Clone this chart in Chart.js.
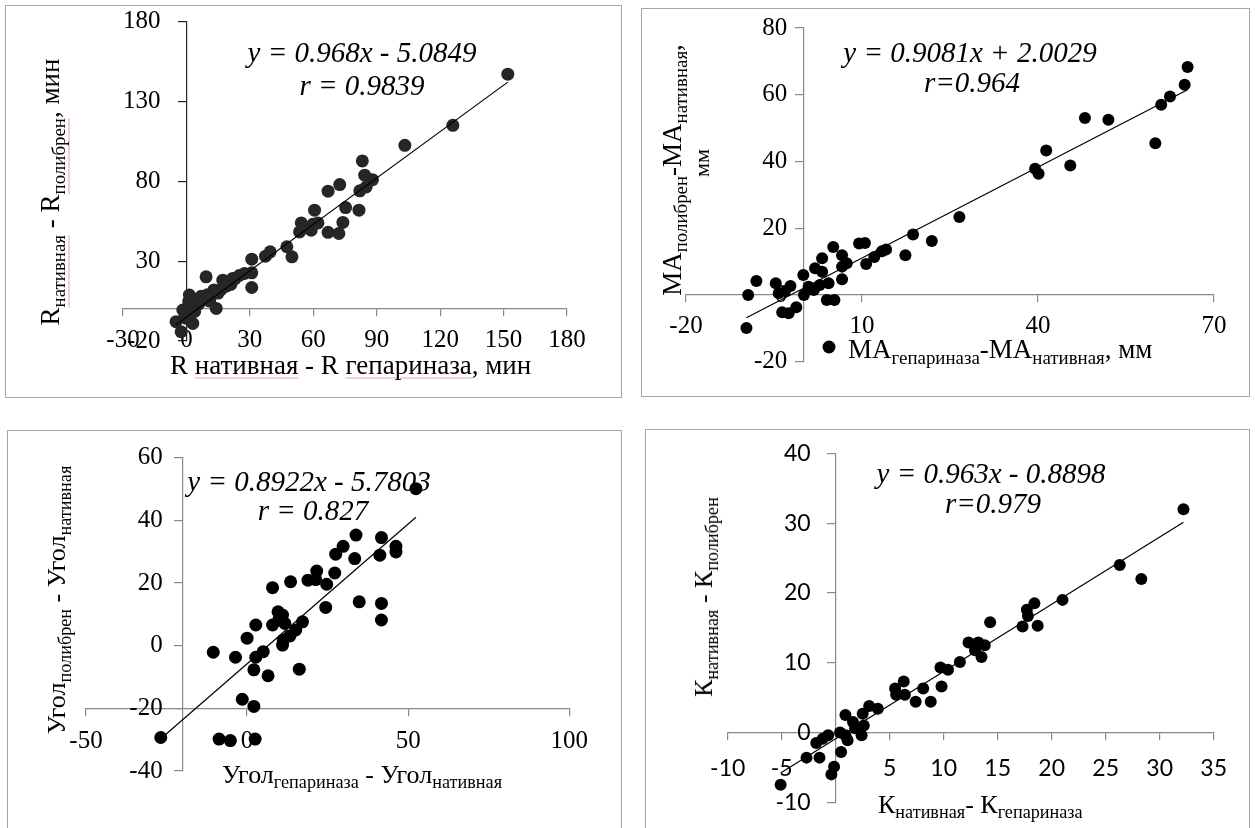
<!DOCTYPE html>
<html>
<head>
<meta charset="utf-8">
<script src="https://cdn.jsdelivr.net/npm/chart.js@4.4.1/dist/chart.umd.min.js"></script>
<style>
    body { margin: 0; background: #fff; width: 1255px; height: 828px; position: relative; overflow: hidden; }
    canvas { position: absolute; left: 0; top: 0; }
    .box { position: absolute; border: 1.5px solid #a6a6a6; box-sizing: border-box; }
    .t { position: absolute; white-space: nowrap; font-family: 'Liberation Serif', serif; color: #000; line-height: 1; }
    .t sub { font-size: 0.7em; vertical-align: -0.32em; line-height: 0; }
    .eq { font-style: italic; font-size: 29px; transform: translate(-50%, -50%); }
    .rot { transform: translate(-50%, -50%) rotate(-90deg); }
    .sp { text-decoration: underline; text-decoration-color: rgba(235, 120, 120, 0.7); text-underline-offset: 4px; text-decoration-thickness: 1px; }
    .dot { position: absolute; width: 13px; height: 13px; border-radius: 50%; background: #000; transform: translate(-50%, -50%); }
</style>
</head>
<body>
<div class="box" style="left:5px;top:5px;width:617px;height:393px"></div>
<div class="box" style="left:641px;top:8px;width:609px;height:389px"></div>
<div class="box" style="left:7px;top:430px;width:615px;height:402px"></div>
<div class="box" style="left:645px;top:429px;width:605px;height:402px"></div>

<canvas id="c1" width="1255" height="828"></canvas>
<canvas id="c2" width="1255" height="828"></canvas>
<canvas id="c3" width="1255" height="828"></canvas>
<canvas id="c4" width="1255" height="828"></canvas>

<!-- Панель 1 -->
<div class="t eq" style="left:362px;top:52px">y = 0.968x - 5.0849</div>
<div class="t eq" style="left:362px;top:85px">r = 0.9839</div>
<div class="t" style="left:170px;top:365px;font-size:27px;transform:translateY(-50%)">R <span class="sp">нативная</span> - R <span class="sp">гепариназа</span>, мин</div>
<div class="t rot" style="left:50px;top:192px;font-size:27px">R<sub class="sp">нативная</sub> - R<sub class="sp">полибрен</sub>, мин</div>

<!-- Панель 2 -->
<div class="t eq" style="left:970px;top:52px">y = 0.9081x + 2.0029</div>
<div class="t eq" style="left:972px;top:82px">r=0.964</div>
<div class="t rot" style="left:672px;top:170px;font-size:27px">MA<sub>полибрен</sub>-MA<sub>нативная</sub>,</div>
<div class="t rot" style="left:702px;top:163px;font-size:22px">мм</div>
<div class="dot" style="left:829px;top:347px"></div>
<div class="t" style="left:848px;top:347px;font-size:27px;transform:translateY(-40%)">MA<sub>гепариназа</sub>-MA<sub>нативная</sub>, мм</div>

<!-- Панель 3 -->
<div class="t eq" style="left:309px;top:481px">y = 0.8922x - 5.7803</div>
<div class="t eq" style="left:313px;top:510px">r = 0.827</div>
<div class="t" style="left:222px;top:772px;font-size:26px;transform:translateY(-40%)">Угол<sub>гепариназа</sub> - Угол<sub>нативная</sub></div>
<div class="t rot" style="left:57px;top:600px;font-size:26px">Угол<sub>полибрен</sub> - Угол<sub>нативная</sub></div>

<!-- Панель 4 -->
<div class="t eq" style="left:991px;top:473px">y = 0.963x - 0.8898</div>
<div class="t eq" style="left:993px;top:503px">r=0.979</div>
<div class="t" style="left:878px;top:802px;font-size:26px;transform:translateY(-40%)">К<sub>нативная</sub>- К<sub>гепариназа</sub></div>
<div class="t rot" style="left:704px;top:597px;font-size:26px">К<sub>нативная</sub> - К<sub>полибрен</sub></div>

<script>
// R: нативная - гепариназа (x) и нативная - полибрен (y), мин
const rX = [-4.9, -2.5, -1.7, -0.6, 0, 3, 3.9, 1.1, 1.4, 5.7, 8, 9.5, 12.6, 14.1, 16.5, 9.3, 17.2, 18.8, 21, 21.9,
    27.5, 30.9, 30.9, 30.9, 37.4, 39.6, 47.5, 49.9, 53.5, 54.3, 57, 59, 59.8, 60.6, 62.2, 67, 67, 72.1, 72.5, 74,
    75.3, 81.6, 82, 83.2, 84.3, 85, 88, 103.3, 126, 152, 2, 4, 6, 7, 10, 11, 13, 15, 19, 23, 25];
const rY = [-7.9, -14.2, -0.6, -4, -5.8, -9, -1.5, 4.8, 8.75, 3, 6, 7, 10, 0.4, 12.3, 20.2, 18.1, 14.4, 15.4, 19.2,
    22.3, 31.2, 22.7, 13.5, 33.1, 35.8, 39, 32.7, 48.3, 53.9, 51, 49.4, 53.1, 61.9, 53.9, 48, 73.8, 47.3, 77.9, 54.2,
    63.5, 61.9, 74, 92.7, 83.8, 76.4, 81, 102.5, 115, 147, 2, 1, 4, 8, 9, 5, 12, 10, 16, 19, 21];
const rTrend = [0.968, -5.0849];
const rTicksX = [-30, 180, 30];
const rTicksY = [-20, 180, 50];

// МА: гепариназа - нативная (x) и полибрен - нативная (y), мм
const maX = [-9.7, -9.4, -8.0, -4.7, -4.2, -3.6, -2.5, -1.2, -2.2, -3.1, 0.1, 0, 0.9, 1.8, 2.0, 3.2, 3.2, 4.3, 2.8,
    4.0, 5.3, 5.1, 6.6, 6.6, 7.4, 6.6, 9.5, 10.5, 10.7, 12.1, 13.4, 14.1, 17.4, 18.7, 21.9, 26.6, 39.5, 40.1, 41.4,
    45.5, 48, 52, 60, 61, 62.5, 65, 65.5];
const maY = [-9.9, 0, 4.2, 3.5, 0.5, -5.2, -5.5, -3.7, 2.7, 1.2, 0, 6, 2.5, 1.5, 8.0, 7, 11, 3.5, 3,
    -1.5, -1.5, 14.4, 11.9, 8.5, 9.5, 4.7, 15.4, 15.6, 9.3, 11.4, 13.1, 13.6, 11.9, 18.1, 16.2, 23.4, 37.8, 36.3, 43.3,
    38.8, 53, 52.5, 45.5, 57, 59.5, 63, 68.3];
const maTrend = [0.9081, 2.0029];
const maTicksX = [-20, 70, 30];
const maTicksY = [-20, 80, 20];

// Угол: гепариназа - нативная (x) и полибрен - нативная (y)
const uX = [-26.8, -10.5, -8.7, -5.2, -3.6, -1.5, 0, 2.1, 2.5, 2.1, 2.7, 2.7, 5.0, 6.5, 7.9, 7.9, 9.6, 9.9, 11.0,
    11.2, 11.0, 11.7, 13.5, 13.3, 15.1, 16.2, 17.2, 18.9, 21.6, 21.3, 24.7, 24.4, 27.2, 27.5, 29.8, 33.8, 33.4, 34.8,
    41.2, 41.7, 41.7, 41.7, 46.2, 46.2, 52.4];
const uY = [-29.3, -2.1, -29.8, -30.3, -3.7, -17.1, 2.4, -19.4, -29.8, -7.7, 6.6, -3.7, -1.9, -9.6, 18.5, 6.6, 10.8,
    8.4, 9.8, 1.8, 0.2, 7.1, 20.4, 3.1, 5, -7.5, 7.6, 20.9, 23.8, 21.1, 19.6, 12.2, 23.2, 29.2, 31.7, 35.3, 27.8, 14,
    28.9, 34.5, 13.5, 8.2, 31.7, 29.9, 50.1];
const uTrend = [0.8922, -5.7803];
const uTicksX = [-50, 100, 50];
const uTicksY = [-40, 60, 20];

// К: нативная - гепариназа (x) и нативная - полибрен (y)
const kX = [-5.1, -2.7, -1.5, -1.8, -1.2, -0.7, -0.4, -0.15, 0.5, 0.9, 0.4, 0.9, 1.1, 1.6, 1.8, 2.4, 2.5, 2.6, 3.1,
    3.9, 5.5, 5.6, 6.3, 6.4, 7.4, 8.1, 8.8, 9.7, 9.8, 10.4, 11.5, 12.3, 13.2, 13.5, 13.8, 12.9, 14.3, 17.3, 17.7,
    18.4, 18.7, 17.8, 21, 26.3, 28.3, 32.2];
const kY = [-7.5, -3.6, -3.6, -1.5, -0.9, -0.4, -6.0, -4.9, -2.8, 2.5, 0, -0.4, -1.1, 1.5, 0.6, -0.4, 2.7, 1, 3.8,
    3.4, 6.3, 5.4, 7.3, 5.4, 4.4, 6.3, 4.4, 9.3, 6.6, 9.0, 10.1, 12.9, 12.9, 10.8, 12.5, 11.8, 15.8, 15.2, 17.6,
    18.5, 15.3, 16.7, 19, 24, 22, 32];
const kTrend = [0.963, -0.8898];
const kTicksX = [-10, 35, 5];
const kTicksY = [-10, 40, 10];

const serif = 'Liberation Serif';

function points(xs, ys) {
    return xs.map((x, i) => ({ x: x, y: ys[i] }));
}

function trendLine(xs, coef) {
    const x0 = Math.min(...xs);
    const x1 = Math.max(...xs);
    return [{ x: x0, y: coef[0] * x0 + coef[1] }, { x: x1, y: coef[0] * x1 + coef[1] }];
}

// подписи оси Y рисуем сами: Chart.js ставит их вплотную к оси, если ось в середине
const yLabelsPlugin = {
    id: 'yLabels',
    afterDraw(chart, args, opts) {
        const ys = chart.scales.y;
        const ax = chart.scales.x.getPixelForValue(opts.cross);
        const ctx = chart.ctx;
        ctx.save();
        ctx.font = opts.size + 'px "' + opts.font + '"';
        ctx.fillStyle = '#000';
        ctx.textAlign = 'right';
        ctx.textBaseline = 'middle';
        ys.ticks.forEach(t => {
            ctx.fillText(String(t.value), ax - opts.gap, ys.getPixelForValue(t.value));
        });
        ctx.restore();
    }
};

// одна диаграмма рассеяния с осями, пересекающимися в точке cross
function makeChart(id, o) {
    const axisColor = '#898989';
    new Chart(document.getElementById(id), {
        type: 'scatter',
        data: {
            datasets: [{
                data: points(o.xs, o.ys),
                backgroundColor: o.color,
                borderWidth: 0,
                pointRadius: o.radius,
                order: 2
            }, {
                type: 'line',
                data: trendLine(o.xs, o.trend),
                borderColor: '#000',
                borderWidth: 1.2,
                pointRadius: 0,
                order: 1
            }]
        },
        options: {
            responsive: false,
            animation: false,
            layout: { padding: o.area },
            plugins: {
                legend: { display: false },
                tooltip: { enabled: false },
                yLabels: { cross: o.cross[0], font: o.font, size: o.size, gap: o.gapY }
            },
            scales: {
                x: {
                    type: 'linear',
                    min: o.ticksX[0], max: o.ticksX[1],
                    position: { y: o.cross[1] },
                    border: { color: axisColor, width: 1.2 },
                    grid: { drawOnChartArea: false, drawTicks: true, tickLength: 7, color: axisColor, lineWidth: 1.2 },
                    ticks: {
                        stepSize: o.ticksX[2], padding: o.padX, color: '#000',
                        font: { family: o.font, size: o.size },
                        maxRotation: 0,
                        callback: v => (o.hideX0 && v === 0) ? '' : String(v)
                    }
                },
                y: {
                    type: 'linear',
                    min: o.ticksY[0], max: o.ticksY[1],
                    position: { x: o.cross[0] },
                    border: { color: o.yAxisColor || axisColor, width: 1.2 },
                    grid: { drawOnChartArea: false, drawTicks: true, tickLength: 8, color: o.yAxisColor || axisColor, lineWidth: 1.2 },
                    ticks: { stepSize: o.ticksY[2], display: false, padding: 0 }
                }
            }
        },
        plugins: [yLabelsPlugin]
    });
}

makeChart('c1', {
    xs: rX, ys: rY, trend: rTrend, ticksX: rTicksX, ticksY: rTicksY, cross: [0, 0],
    area: { left: 123, right: 1255 - 567, top: 21.5, bottom: 828 - 341 },
    color: '#262626', radius: 6.5, font: serif, size: 25, padX: 9, gapY: 26, yAxisColor: '#222'
});
makeChart('c2', {
    xs: maX, ys: maY, trend: maTrend, ticksX: maTicksX, ticksY: maTicksY, cross: [0, 0],
    area: { left: 686, right: 1255 - 1214, top: 28, bottom: 828 - 361.75 },
    color: '#000', radius: 6, font: serif, size: 25, padX: 9, gapY: 16
});
makeChart('c3', {
    xs: uX, ys: uY, trend: uTrend, ticksX: uTicksX, ticksY: uTicksY, cross: [-20, -20],
    area: { left: 86, right: 1255 - 569.3, top: 457.7, bottom: 828 - 771 },
    color: '#000', radius: 6.5, font: serif, size: 25, padX: 11, gapY: 20
});
makeChart('c4', {
    xs: kX, ys: kY, trend: kTrend, ticksX: kTicksX, ticksY: kTicksY, cross: [0, 0],
    area: { left: 727.7, right: 1255 - 1213.7, top: 453.3, bottom: 828 - 802.3 },
    color: '#000', radius: 6, font: 'Lato', size: 23, padX: 15, gapY: 25, hideX0: true
});
</script>
</body>
</html>
